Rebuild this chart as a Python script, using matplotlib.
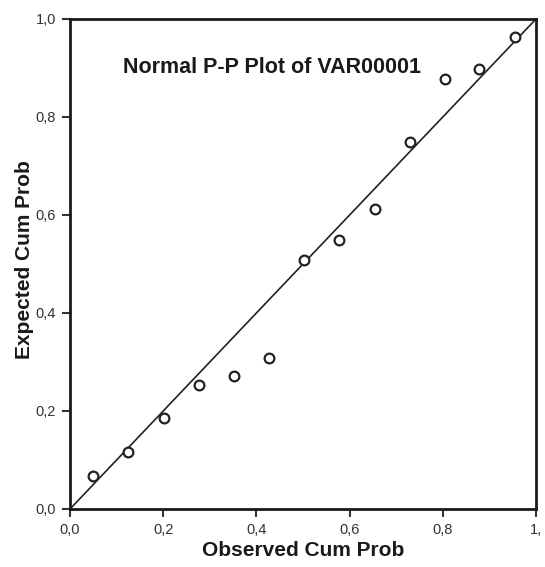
import matplotlib
matplotlib.use("Agg")
import matplotlib.pyplot as plt

plt.rcParams['font.family'] = ['Liberation Sans', 'DejaVu Sans']

observed = [0.049, 0.124, 0.201, 0.277, 0.352, 0.428, 0.503, 0.578, 0.654, 0.730, 0.805, 0.878, 0.955]
expected = [0.068, 0.117, 0.186, 0.254, 0.272, 0.308, 0.508, 0.549, 0.612, 0.750, 0.878, 0.898, 0.964]
ref_line = [0.0, 1.0]

x_ticks = [0.0, 0.2, 0.4, 0.6, 0.8, 1.0]
x_ticklabels = ['0,0', '0,2', '0,4', '0,6', '0,8', '1,']
y_ticks = [0.0, 0.2, 0.4, 0.6, 0.8, 1.0]
y_ticklabels = ['0,0', '0,2', '0,4', '0,6', '0,8', '1,0']

fig = plt.figure(figsize=(5.45, 5.67), dpi=100)
ax = fig.add_axes([70/545, 1-509/567, 466/545, 490/567])

ax.plot(ref_line, ref_line, color='#222222', lw=1.2, zorder=2)
ax.plot(observed, expected, linestyle='none', marker='o', markersize=7,
        markerfacecolor='white', markeredgecolor='#222222', markeredgewidth=1.6, zorder=3)

ax.set_xlim(0, 1)
ax.set_ylim(0, 1)
ax.set_xticks(x_ticks)
ax.set_xticklabels(x_ticklabels)
ax.set_yticks(y_ticks)
ax.set_yticklabels(y_ticklabels)
ax.tick_params(direction='out', length=6, width=1.5, labelsize=10.5, colors='#333333', pad=4)
for s in ax.spines.values():
    s.set_linewidth(2)
    s.set_color('#1a1a1a')

ax.set_xlabel('Observed Cum Prob', fontsize=15, fontweight='bold', labelpad=3, color='#1a1a1a')
ax.set_ylabel('Expected Cum Prob', fontsize=15, fontweight='bold', color='#1a1a1a',
              va='center')
ax.yaxis.set_label_coords(-0.0966, 0.51)
ax.text(0.433, 0.902, 'Normal P-P Plot of VAR00001', fontsize=15.5, fontweight='bold',
        ha='center', va='center', color='#1a1a1a')

fig.savefig('out.png', dpi=100)
